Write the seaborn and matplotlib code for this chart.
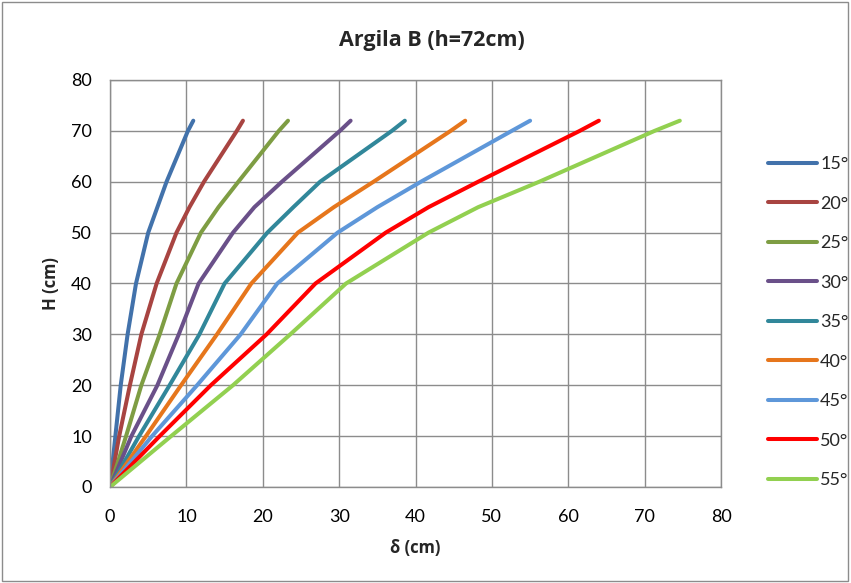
import matplotlib
matplotlib.use("Agg")
import matplotlib.pyplot as plt
import seaborn as sns
import pandas as pd
from matplotlib.patches import Rectangle

sns.set_theme(style="white")
plt.rcParams['font.family'] = ['Lato', 'DejaVu Sans']
BOLD = ['Open Sans', 'DejaVu Sans']

heights = [0, 10, 20, 30, 40, 50, 55, 60, 70, 72]
angles = ["15°", "20°", "25°", "30°", "35°", "40°", "45°", "50°", "55°"]
d15 = [0, 0.7, 1.4, 2.3, 3.4, 5.0, 6.2, 7.4, 10.2, 10.9]
d20 = [0, 1.2, 2.6, 4.1, 6.1, 8.7, 10.4, 12.3, 16.6, 17.4]
d25 = [0, 2.1, 4.1, 6.5, 8.7, 11.9, 14.2, 16.8, 22.1, 23.3]
d30 = [0, 2.8, 6.2, 9.0, 11.6, 16.1, 18.9, 22.5, 30.1, 31.5]
d35 = [0, 3.8, 7.8, 11.7, 15.0, 20.6, 24.0, 27.5, 36.9, 38.6]
d40 = [0, 4.7, 9.3, 14.0, 18.5, 24.6, 29.3, 34.5, 44.6, 46.5]
d45 = [0, 5.5, 11.4, 17.1, 21.9, 29.8, 35.0, 40.7, 52.6, 55.0]
d50 = [0, 6.5, 13.2, 20.5, 26.9, 36.1, 41.7, 48.2, 61.5, 64.0]
d55 = [0, 8.0, 16.1, 23.6, 30.9, 41.7, 48.2, 56.2, 71.3, 74.6]
series = [d15, d20, d25, d30, d35, d40, d45, d50, d55]
colors = ["#4272AB", "#A84441", "#7E9D43", "#6A5089", "#31879A",
          "#E6761C", "#5E97D9", "#FF0000", "#92D050"]

rows = []
for a, ds in zip(angles, series):
    for h, d in zip(heights, ds):
        rows.append({"angle": a, "delta": d, "H": h})
df = pd.DataFrame(rows)

fig = plt.figure(figsize=(8.51, 5.83), dpi=100)
ax = fig.add_axes([0.1293, 0.1647, 0.7180, 0.6981])

sns.lineplot(data=df, x="delta", y="H", hue="angle", palette=colors,
             sort=False, estimator=None, linewidth=2.9, ax=ax,
             solid_capstyle="round", solid_joinstyle="round")

ax.set_xlim(0, 80)
ax.set_ylim(0, 80)
ax.set_xticks(range(0, 81, 10))
ax.set_yticks(range(0, 81, 10))
ax.grid(True, color="#8C8C8C", linewidth=1)
ax.set_axisbelow(True)
for s in ax.spines.values():
    s.set_color("#8C8C8C")
    s.set_linewidth(1)
ax.tick_params(axis="both", labelsize=13, length=0, colors="#000000")
ax.tick_params(axis="y", pad=13)
ax.tick_params(axis="x", pad=16)
ax.set_xlabel("δ (cm)", fontsize=12, fontweight="bold", labelpad=10, family=BOLD)
ax.set_ylabel("H (cm)", fontsize=12, fontweight="bold", labelpad=8, family=BOLD)
fig.text(0.508, 0.93, "Argila B (h=72cm)", ha="center", va="center",
         fontsize=15.5, fontweight="bold", family=BOLD)

handles, labels = ax.get_legend_handles_labels()
leg = ax.legend(handles, labels, loc="center left", bbox_to_anchor=(1.05, 0.405),
                frameon=False, fontsize=13, handlelength=2.7, labelspacing=1.3,
                handletextpad=0.2)
for lh in leg.get_lines():
    lh.set_linewidth(2.9)

fig.patches.append(Rectangle((0.002, 0.004), 0.994, 0.992, transform=fig.transFigure,
                             fill=False, edgecolor="#8C8C8C", linewidth=1))

fig.savefig("out.png", dpi=100)
